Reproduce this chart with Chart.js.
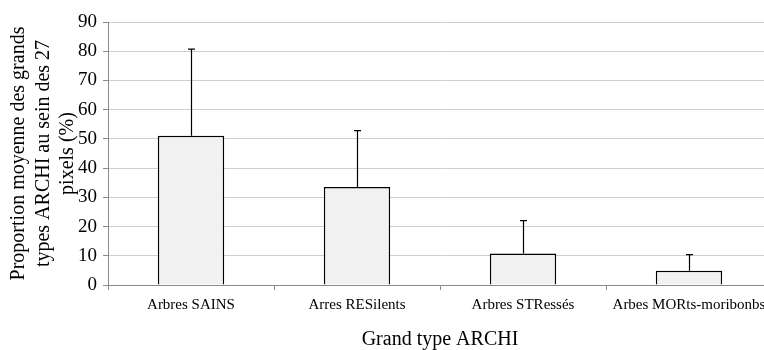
<!DOCTYPE html>
<html>
<head>
<meta charset="utf-8">
<script src="https://cdn.jsdelivr.net/npm/chart.js@4"></script>
<style>
  html, body { margin: 0; padding: 0; background: #fff; overflow: hidden; }
  #wrap { position: relative; width: 782px; height: 350px; }
</style>
</head>
<body>
<div id="wrap"><canvas id="archichart"></canvas></div>
<script>
// données
var categories = ['Arbres SAINS', 'Arres RESilents', 'Arbres STRessés', 'Arbes MORts-moribonbs'];
var moyennes = [51.1, 33.5, 10.8, 4.9];
var ecarts = [29.6, 19.3, 11.2, 5.5];
var yMin = 0, yMax = 90, yStep = 10;

var serif = "'Liberation Serif', 'Times New Roman', serif";

// barres d'erreur (partie haute seulement)
var errorBars = {
  id: 'errorBars',
  afterDatasetsDraw: function(chart) {
    var ctx = chart.ctx;
    var yScale = chart.scales.y;
    var meta = chart.getDatasetMeta(0);
    ctx.save();
    ctx.strokeStyle = '#000';
    ctx.lineWidth = 1.2;
    meta.data.forEach(function(bar, i) {
      var x = Math.round(bar.x) + 0.5;
      var yTop = yScale.getPixelForValue(moyennes[i] + ecarts[i]);
      var yBase = yScale.getPixelForValue(moyennes[i]);
      ctx.beginPath();
      ctx.moveTo(x, yBase);
      ctx.lineTo(x, yTop);
      ctx.moveTo(x - 3.5, yTop);
      ctx.lineTo(x + 3.5, yTop);
      ctx.stroke();
    });
    ctx.restore();
  }
};

var ctx = document.getElementById('archichart').getContext('2d');
var archichart = new Chart(ctx, {
  type: 'bar',
  data: {
    labels: categories,
    datasets: [{
      data: moyennes,
      backgroundColor: '#f1f1f1',
      borderColor: '#000',
      borderWidth: 1.5,
      barPercentage: 0.4,
      categoryPercentage: 1.0
    }]
  },
  options: {
    responsive: true,
    maintainAspectRatio: false,
    animation: false,
    layout: { padding: { top: 22, right: 10, bottom: 0, left: 0 } },
    plugins: {
      legend: { display: false },
      tooltip: { enabled: false }
    },
    scales: {
      x: {
        grid: { drawOnChartArea: false, drawTicks: true, tickLength: 5, color: '#8a8a8a', offset: true },
        border: { color: '#8a8a8a', width: 1 },
        ticks: { color: '#000', font: { family: serif, size: 15 }, padding: 6, maxRotation: 0, autoSkip: false },
        title: {
          display: true, text: 'Grand type ARCHI', color: '#000',
          font: { family: serif, size: 20, lineHeight: 1.0 }, padding: { top: 10, bottom: 0 }
        }
      },
      y: {
        min: yMin, max: yMax,
        afterFit: function(scale) { scale.width = 108; },
        grid: { color: '#cfcfcf', lineWidth: 1, tickLength: 5, tickColor: '#8a8a8a' },
        border: { color: '#8a8a8a', width: 1 },
        ticks: { stepSize: yStep, color: '#000', font: { family: serif, size: 19 }, padding: 6 },
        title: {
          display: true,
          text: ['Proportion moyenne des grands', 'types ARCHI au sein des 27', 'pixels (%)'],
          color: '#000',
          font: { family: serif, size: 20, lineHeight: 1.225 },
          padding: { top: 6.75, bottom: 0 }
        }
      }
    }
  },
  plugins: [errorBars]
});
</script>
</body>
</html>
